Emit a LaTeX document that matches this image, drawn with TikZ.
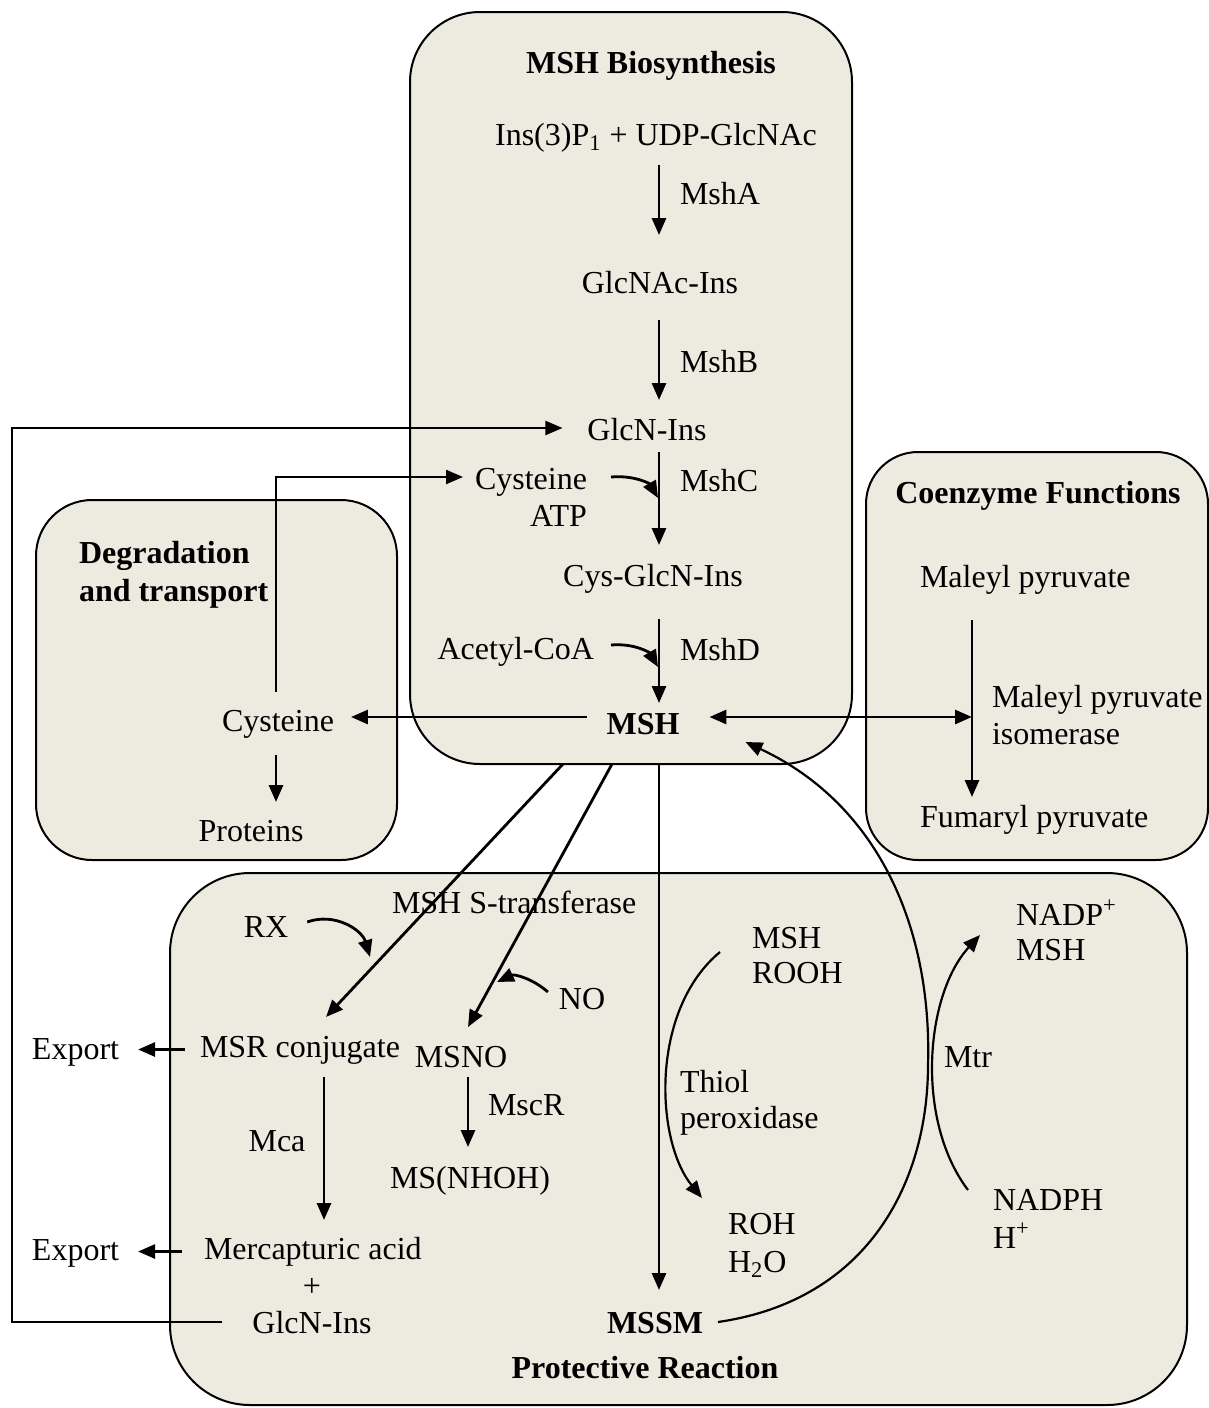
\documentclass[tikz,border=0pt]{standalone}
\usepackage{fontspec}
\setmainfont{Liberation Serif}
\usetikzlibrary{arrows.meta}
\definecolor{boxfill}{RGB}{237,234,224}
\begin{document}
\begin{tikzpicture}[x=0.5pt,y=-0.5pt,
  font=\fontsize{16pt}{18.5pt}\selectfont,
  box/.style={draw, line width=1pt, fill=boxfill, inner sep=0pt, outer sep=0pt},
  txt/.style={inner sep=0pt, outer sep=0pt, text height=11pt, text depth=3.5pt},
  ttl/.style={txt, font=\fontsize{16pt}{18.5pt}\selectfont\bfseries},
  arr/.style={line width=1.4pt, -{Triangle[length=8.5pt,width=7pt]}},
  darr/.style={line width=1.4pt, {Triangle[length=8.5pt,width=7pt]}-{Triangle[length=8.5pt,width=7pt]}},
  carr/.style={line width=1.1pt, -{Triangle[length=8.5pt,width=7pt]}},
  fline/.style={line width=1.1pt, -{Triangle[length=8.5pt,width=7pt]}}
]
\useasboundingbox (0,0) rectangle (1209,1408);

% ---------- boxes ----------
\node[box, minimum width=221pt, minimum height=376pt, rounded corners=35pt] (bio) at (631,388) {};
\node[box, minimum width=180.5pt, minimum height=180pt, rounded corners=28pt] (deg) at (216.5,680) {};
\node[box, minimum width=171pt, minimum height=204pt, rounded corners=26pt] (co) at (1037,656) {};
\node[box, minimum width=508.5pt, minimum height=266pt, rounded corners=40pt] (pro) at (678.5,1139) {};

% ---------- helper coordinates ----------
\coordinate (sp) at (659,0);
\coordinate (cx) at (972,0);
\coordinate (dx) at (276,0);
\coordinate (lx) at (12,0);
\coordinate (mcx) at (324,0);
\coordinate (mscx) at (468,0);
\coordinate (cjoin) at (658,498);
\coordinate (djoin) at (658,667);
\coordinate (rxjoin) at (370,957);
\coordinate (nojoin) at (497,982);
\coordinate (bigmid) at (928,1065);

% ---------- MSH biosynthesis texts ----------
\node[ttl, anchor=base] (tbio) at (651,73) {MSH Biosynthesis};
\node[txt, anchor=base] (ins) at (656,145) {Ins(3)P\textsubscript{1} + UDP-GlcNAc};
\node[txt, anchor=base west] (lA) at (680,204) {MshA};
\node[txt, anchor=base] (glcnac) at (660,293) {GlcNAc-Ins};
\node[txt, anchor=base west] (lB) at (680,372) {MshB};
\node[txt, anchor=base] (glcnt) at (647,440) {GlcN-Ins};
\node[txt, anchor=base east] (cysm) at (587,489) {Cysteine};
\node[txt, anchor=base east] (atp) at (587,526) {ATP};
\node[txt, anchor=base west] (lC) at (680,491) {MshC};
\node[txt, anchor=base] (cysglcn) at (653,586) {Cys-GlcN-Ins};
\node[txt, anchor=base east] (acetyl) at (594,659) {Acetyl-CoA};
\node[txt, anchor=base west] (lD) at (680,660) {MshD};
\node[ttl, anchor=base] (msh) at (643,734) {MSH};

% ---------- degradation ----------
\node[ttl, anchor=base west] (tdeg1) at (79,563) {Degradation};
\node[ttl, anchor=base west] (tdeg2) at (79,601) {and transport};
\node[txt, anchor=base] (cysd) at (278,731) {Cysteine};
\node[txt, anchor=base] (proteins) at (251,841) {Proteins};

% ---------- coenzyme ----------
\node[ttl, anchor=base] (tco) at (1038,503) {Coenzyme Functions};
\node[txt, anchor=base west] (maleyl) at (920,587) {Maleyl pyruvate};
\node[txt, anchor=base west] (iso1) at (992,707) {Maleyl pyruvate};
\node[txt, anchor=base west] (iso2) at (992,744) {isomerase};
\node[txt, anchor=base west] (fumaryl) at (920,827) {Fumaryl pyruvate};

% ---------- protective ----------
\node[txt, anchor=base] (rx) at (266,937) {RX};
\node[txt, anchor=base west] (mshst) at (392,913) {MSH S-transferase};
\node[txt, anchor=base] (no) at (582,1009) {NO};
\node[txt, anchor=base west] (msr) at (200,1057) {MSR conjugate};
\node[txt, anchor=base] (msno) at (461,1067) {MSNO};
\node[txt, anchor=base west] (lmscr) at (488,1115) {MscR};
\node[txt, anchor=base] (msnhoh) at (470,1188) {MS(NHOH)};
\node[txt, anchor=base] (lmca) at (277,1151) {Mca};
\node[txt, anchor=base west] (exp1) at (32,1059) {Export};
\node[txt, anchor=base west] (exp2) at (32,1260) {Export};
\node[txt, anchor=base west] (merc) at (204,1259) {Mercapturic acid};
\node[txt, anchor=base] (plus) at (312,1296) {+};
\node[txt, anchor=base] (glcnb) at (312,1333) {GlcN-Ins};
\node[ttl, anchor=base] (mssm) at (655,1333) {MSSM};
\node[ttl, anchor=base] (tpro) at (645,1378) {Protective Reaction};
\node[txt, anchor=base west] (pmsh) at (752,948) {MSH};
\node[txt, anchor=base west] (rooh) at (752,983) {ROOH};
\node[txt, anchor=base west] (thiol1) at (680,1092) {Thiol};
\node[txt, anchor=base west] (thiol2) at (680,1128) {peroxidase};
\node[txt, anchor=base west] (roh) at (728,1234) {ROH};
\node[txt, anchor=base west] (h2o) at (728,1272) {H\textsubscript{2}O};
\node[txt, anchor=base] (lmtr) at (968,1067) {Mtr};
\node[txt, anchor=base west] (nadp) at (1016,925) {NADP\textsuperscript{+}};
\node[txt, anchor=base west] (pmsh2) at (1016,960) {MSH};
\node[txt, anchor=base west] (nadph) at (993,1210) {NADPH};
\node[txt, anchor=base west] (hplus) at (993,1248) {H\textsuperscript{+}};

% ---------- biosynthesis arrows ----------
\draw[arr, shorten <=6.5pt, shorten >=18pt] (ins.south -| sp) -- (glcnac.north -| sp);
\draw[arr, shorten <=10pt, shorten >=9pt] (glcnac.south -| sp) -- (glcnt.north -| sp);
\draw[arr, shorten <=2.5pt, shorten >=9.5pt] (glcnt.south -| sp) -- (cysglcn.north -| sp);
\draw[arr, shorten <=13pt, shorten >=4.5pt] (cysglcn.south -| sp) -- (msh.north -| sp);
\draw[arr] ([xshift=12pt,yshift=2.25pt]cysm.east) .. controls (635,475) and (650,484) .. (cjoin);
\draw[arr] ([xshift=8.5pt,yshift=3.25pt]acetyl.east) .. controls (635,643) and (650,653) .. (djoin);

% ---------- MSH to degradation / coenzyme ----------
\draw[arr, shorten <=10pt, shorten >=8.5pt] ([yshift=4.75pt]msh.west) -- ([yshift=4.75pt]msh.west -| cysd.east);
\draw[darr, shorten <=15pt] ([yshift=4.75pt]msh.east) -- ([yshift=4.75pt]msh.east -| cx);
\draw[arr, shorten <=13pt, shorten >=4pt] (maleyl.south -| cx) -- (fumaryl.north -| cx);
\draw[arr, shorten <=8.5pt, shorten >=8.5pt] (cysd.south -| dx) -- (proteins.north -| dx);
\draw[fline, shorten <=8.5pt, shorten >=6pt] (cysd.north -| dx) |- ([yshift=2.25pt]cysm.west);

% ---------- feedback GlcN-Ins ----------
\draw[fline, shorten <=15pt, shorten >=12.5pt] ([yshift=1.75pt]glcnb.west) -- ([yshift=1.75pt]glcnb.west -| lx) -- ([yshift=2.25pt]glcnt.west -| lx) -- ([yshift=2.25pt]glcnt.west);

% ---------- protective arrows ----------
\draw[arr] ([xshift=-34pt]bio.south) -- ([xshift=13pt,yshift=9pt]msr.north);
\draw[arr] ([xshift=-9.5pt]bio.south) -- ([xshift=3.5pt,yshift=9pt]msno.north);
\draw[arr, shorten >=10.5pt] (bio.south -| sp) -- (mssm.north -| sp);
\draw[arr] ([xshift=9.5pt,yshift=3.75pt]rx.east) .. controls (335,912) and (362,930) .. (rxjoin);
\draw[arr] ([xshift=-5.5pt,yshift=4.75pt]no.west) .. controls (532,978) and (514,974) .. (nojoin);
\draw[arr, shorten <=7.5pt, shorten >=9.5pt] (msr.west) -- (msr.west -| exp1.east);
\draw[arr, shorten <=11pt, shorten >=9.5pt] (merc.west) -- (merc.west -| exp2.east);
\draw[arr, shorten <=6.5pt, shorten >=8.5pt] (msr.south -| mcx) -- (merc.north -| mcx);
\draw[arr, shorten <=1.5pt, shorten >=9.5pt] (msno.south -| mscx) -- (msnhoh.north -| mscx);

% thiol peroxidase
\draw[carr] ([xshift=-16pt,yshift=-5.75pt]pmsh.west) .. controls (650,1010) and (655,1140) .. ([xshift=-13pt,yshift=14.25pt]roh.west);
% Mtr
\draw[carr] ([xshift=-12.5pt,yshift=6.25pt]nadph.west) .. controls (915,1120) and (925,995) .. ([xshift=-18pt,yshift=-8.75pt]nadp.west);
% MSSM back to MSH
\draw[carr] ([xshift=7.5pt,yshift=1.75pt]mssm.east) .. controls (870,1300) and (928,1180) .. (bigmid) .. controls (932,930) and (880,805) .. ([xshift=33pt,yshift=-7.75pt]msh.east);
\end{tikzpicture}
\end{document}
